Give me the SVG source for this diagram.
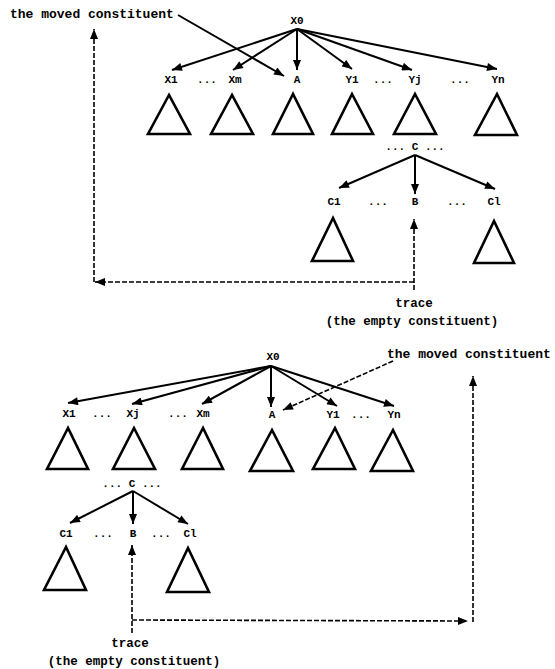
<svg xmlns="http://www.w3.org/2000/svg" width="555" height="669" viewBox="0 0 555 669">
<style>
text{font-family:"Liberation Mono","DejaVu Sans Mono",monospace;fill:#000;font-weight:bold}
.lbl{font-size:11px;text-anchor:middle}
.cap{font-size:13px}
.capm{font-size:12.5px;text-anchor:middle}
.tri{fill:none;stroke:#000;stroke-width:2.6;stroke-linejoin:miter}
.arr{fill:none;stroke:#000;stroke-width:2;marker-end:url(#ah)}
.dash{fill:none;stroke:#000;stroke-width:1.6;stroke-dasharray:5 2}
.dasha{fill:none;stroke:#000;stroke-width:1.6;stroke-dasharray:5 2;marker-end:url(#ah)}
</style>
<defs>
<marker id="ah" viewBox="0 0 10 8" refX="10" refY="4" markerWidth="11" markerHeight="8" markerUnits="userSpaceOnUse" orient="auto">
<path d="M0,0 L10,4 L0,8 Z" fill="#000"/>
</marker>
</defs>
<rect width="555" height="669" fill="#fff"/>

<!-- TOP TREE -->
<g id="t-x0"><text class="lbl" x="297" y="24">X0</text></g>
<g id="t-x1"><text class="lbl" x="171" y="83">X1</text><polygon class="tri" points="169,95 148,134 190,134"/></g>
<g id="t-dots1"><text class="lbl" x="207" y="83">...</text></g>
<g id="t-xm"><text class="lbl" x="235" y="83">Xm</text><polygon class="tri" points="232,95 211,134 253,134"/></g>
<g id="t-a"><text class="lbl" x="297" y="83">A</text><polygon class="tri" points="293,94 273,134 313,134"/></g>
<g id="t-y1"><text class="lbl" x="352" y="83">Y1</text><polygon class="tri" points="352,94 332,134 373,134"/></g>
<g id="t-dots2"><text class="lbl" x="383" y="83">...</text></g>
<g id="t-yj"><text class="lbl" x="415" y="83">Yj</text><polygon class="tri" points="415,94 394,134 436,134"/></g>
<g id="t-dots3"><text class="lbl" x="460" y="83">...</text></g>
<g id="t-yn"><text class="lbl" x="498" y="83">Yn</text><polygon class="tri" points="497,94 475,135 517,135"/></g>
<g id="t-c"><text class="lbl" x="415" y="150">... C ...</text></g>
<g id="t-c1"><text class="lbl" x="334" y="205">C1</text><polygon class="tri" points="333,218 312,261 353,261"/></g>
<g id="t-dots4"><text class="lbl" x="378" y="205">...</text></g>
<g id="t-b"><text class="lbl" x="415" y="205">B</text></g>
<g id="t-dots5"><text class="lbl" x="457" y="205">...</text></g>
<g id="t-cl"><text class="lbl" x="494" y="205">Cl</text><polygon class="tri" points="494,221 474,263 514,263"/></g>
<g id="t-moved"><text class="cap" x="10" y="18">the moved constituent</text></g>
<g id="t-trace"><text class="capm" x="414" y="307">trace</text><text class="capm" x="412" y="325">(the empty constituent)</text></g>

<!-- BOTTOM TREE -->
<g id="b-x0"><text class="lbl" x="273" y="360">X0</text></g>
<g id="b-x1"><text class="lbl" x="69" y="417">X1</text><polygon class="tri" points="68,428 47,469 88,469"/></g>
<g id="b-dots1"><text class="lbl" x="102" y="417">...</text></g>
<g id="b-xj"><text class="lbl" x="133" y="417">Xj</text><polygon class="tri" points="134,428 113,469 155,469"/></g>
<g id="b-dots2"><text class="lbl" x="178" y="417">...</text></g>
<g id="b-xm"><text class="lbl" x="203" y="417">Xm</text><polygon class="tri" points="203,428 182,469 223,469"/></g>
<g id="b-a"><text class="lbl" x="272" y="418">A</text><polygon class="tri" points="272,430 250,471 293,471"/></g>
<g id="b-y1"><text class="lbl" x="333" y="418">Y1</text><polygon class="tri" points="335,428 313,469 355,469"/></g>
<g id="b-dots3"><text class="lbl" x="361" y="418">...</text></g>
<g id="b-yn"><text class="lbl" x="394" y="418">Yn</text><polygon class="tri" points="393,430 371,471 413,471"/></g>
<g id="b-c"><text class="lbl" x="132" y="487">... C ...</text></g>
<g id="b-c1"><text class="lbl" x="66" y="537">C1</text><polygon class="tri" points="66,547 44,590 86,590"/></g>
<g id="b-dots4"><text class="lbl" x="103" y="537">...</text></g>
<g id="b-b"><text class="lbl" x="133" y="537">B</text></g>
<g id="b-dots5"><text class="lbl" x="161" y="537">...</text></g>
<g id="b-cl"><text class="lbl" x="190" y="537">Cl</text><polygon class="tri" points="188,548 167,592 209,592"/></g>
<g id="b-moved"><text class="cap" x="387" y="358">the moved constituent</text></g>
<g id="b-trace"><text class="capm" x="130" y="647">trace</text><text class="capm" x="134" y="665">(the empty constituent)</text></g>

<g id="connectors">
<!-- top tree edges -->
<line class="arr" x1="297" y1="29" x2="172" y2="70"/>
<line class="arr" x1="297" y1="29" x2="233" y2="70"/>
<line class="arr" x1="297" y1="29" x2="297" y2="70"/>
<line class="arr" x1="297" y1="29" x2="352" y2="69"/>
<line class="arr" x1="297" y1="29" x2="412" y2="70"/>
<line class="arr" x1="297" y1="29" x2="497" y2="69"/>
<line class="arr" x1="178" y1="15" x2="284" y2="76"/>
<line class="arr" x1="415" y1="155" x2="339" y2="188"/>
<line class="arr" x1="415" y1="155" x2="415" y2="194"/>
<line class="arr" x1="415" y1="155" x2="495" y2="189"/>
<line class="dasha" x1="414" y1="290" x2="414" y2="219"/>
<line class="dasha" x1="414" y1="282" x2="95" y2="282"/>
<line class="dasha" x1="94" y1="282" x2="94" y2="29"/>
<!-- bottom tree edges -->
<line class="arr" x1="271" y1="366" x2="68" y2="403"/>
<line class="arr" x1="271" y1="366" x2="132" y2="404"/>
<line class="arr" x1="271" y1="366" x2="202" y2="404"/>
<line class="arr" x1="271" y1="366" x2="271" y2="407"/>
<line class="arr" x1="271" y1="366" x2="337" y2="406"/>
<line class="arr" x1="271" y1="366" x2="394" y2="406"/>
<line class="dasha" x1="393" y1="361" x2="283" y2="410"/>
<line class="arr" x1="133" y1="491" x2="70" y2="523"/>
<line class="arr" x1="133" y1="491" x2="133" y2="524"/>
<line class="arr" x1="133" y1="491" x2="188" y2="524"/>
<line class="dasha" x1="132" y1="633" x2="132" y2="545"/>
<line class="dasha" x1="132" y1="620" x2="468" y2="621"/>
<line class="dasha" x1="473" y1="622" x2="473" y2="376"/>
</g>
</svg>
